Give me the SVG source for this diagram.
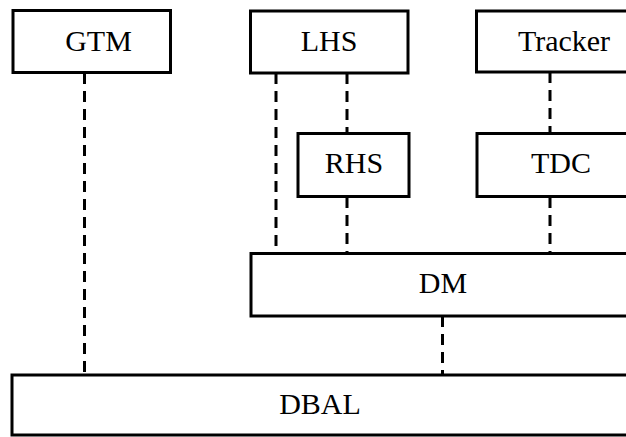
<svg xmlns="http://www.w3.org/2000/svg" width="626" height="437" viewBox="0 0 626 437">
<style>
.box{fill:#fff;stroke:#000;stroke-width:3}
.lbl{font-family:"Liberation Serif","Times New Roman",serif;font-size:30px;fill:#000;text-anchor:middle}
.dash{stroke:#000;stroke-width:3;stroke-dasharray:11 7;fill:none}
</style>
<rect width="626" height="437" fill="#fff"/>
<g id="connectors">
<line class="dash" x1="84.5" y1="73" x2="84.5" y2="375"/>
<line class="dash" x1="276" y1="73" x2="276" y2="253"/>
<line class="dash" x1="347" y1="73" x2="347" y2="133"/>
<line class="dash" x1="347" y1="197" x2="347" y2="253"/>
<line class="dash" x1="550" y1="72" x2="550" y2="133"/>
<line class="dash" x1="550" y1="197" x2="550" y2="253"/>
<line class="dash" x1="442.5" y1="316" x2="442.5" y2="375"/>
</g>
<g id="GTM">
<rect class="box" x="13" y="10.5" width="157.5" height="62"/>
<text class="lbl" x="98.5" y="51">GTM</text>
</g>
<g id="LHS">
<rect class="box" x="250.5" y="11" width="157.5" height="62"/>
<text class="lbl" x="329" y="51">LHS</text>
</g>
<g id="Tracker">
<rect class="box" x="476.5" y="11" width="170" height="61"/>
<text class="lbl" x="564" y="51">Tracker</text>
</g>
<g id="RHS">
<rect class="box" x="298" y="133.5" width="111" height="63"/>
<text class="lbl" x="354" y="172.5">RHS</text>
</g>
<g id="TDC">
<rect class="box" x="477" y="133.5" width="170" height="63"/>
<text class="lbl" x="561" y="172.5">TDC</text>
</g>
<g id="DM">
<rect class="box" x="251" y="253.5" width="400" height="62.5"/>
<text class="lbl" x="443" y="293">DM</text>
</g>
<g id="DBAL">
<rect class="box" x="12" y="375" width="640" height="60"/>
<text class="lbl" x="320" y="413.5">DBAL</text>
</g>
</svg>
